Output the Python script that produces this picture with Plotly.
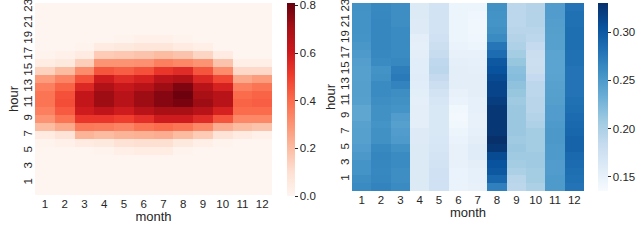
import plotly.graph_objects as go

months = [1, 2, 3, 4, 5, 6, 7, 8, 9, 10, 11, 12]
hours = list(range(24))
hour_ticks = [1, 3, 5, 7, 9, 11, 13, 15, 17, 19, 21, 23]

# Solar: value per month (column) for hours 0..23
solar_m1 = [0, 0, 0, 0, 0, 0, 0.01, 0.05, 0.2, 0.3, 0.35, 0.38, 0.38, 0.35, 0.28, 0.14, 0.04, 0.01, 0, 0, 0, 0, 0, 0]
solar_m2 = [0, 0, 0, 0, 0, 0, 0.02, 0.08, 0.25, 0.38, 0.44, 0.47, 0.46, 0.42, 0.34, 0.2, 0.06, 0.02, 0, 0, 0, 0, 0, 0]
solar_m3 = [0, 0, 0, 0, 0, 0, 0.05, 0.22, 0.37, 0.52, 0.6, 0.63, 0.63, 0.56, 0.46, 0.32, 0.15, 0.05, 0.01, 0, 0, 0, 0, 0]
solar_m4 = [0, 0, 0, 0, 0, 0.01, 0.06, 0.2, 0.36, 0.52, 0.64, 0.72, 0.72, 0.68, 0.6, 0.45, 0.3, 0.16, 0.05, 0, 0, 0, 0, 0]
solar_m5 = [0, 0, 0, 0, 0, 0.03, 0.09, 0.22, 0.34, 0.5, 0.6, 0.66, 0.66, 0.62, 0.55, 0.43, 0.3, 0.17, 0.06, 0.01, 0, 0, 0, 0]
solar_m6 = [0, 0, 0, 0, 0, 0.04, 0.1, 0.23, 0.38, 0.54, 0.66, 0.72, 0.72, 0.66, 0.58, 0.46, 0.31, 0.18, 0.07, 0.02, 0, 0, 0, 0]
solar_m7 = [0, 0, 0, 0, 0, 0.04, 0.1, 0.24, 0.4, 0.6, 0.7, 0.76, 0.76, 0.72, 0.65, 0.52, 0.35, 0.2, 0.07, 0.02, 0, 0, 0, 0]
solar_m8 = [0, 0, 0, 0, 0, 0.01, 0.06, 0.2, 0.38, 0.6, 0.7, 0.78, 0.8, 0.77, 0.68, 0.55, 0.33, 0.18, 0.05, 0.01, 0, 0, 0, 0]
solar_m9 = [0, 0, 0, 0, 0, 0, 0.03, 0.16, 0.33, 0.55, 0.66, 0.72, 0.7, 0.66, 0.56, 0.45, 0.3, 0.13, 0.03, 0, 0, 0, 0, 0]
solar_m10 = [0, 0, 0, 0, 0, 0, 0.01, 0.08, 0.24, 0.45, 0.58, 0.66, 0.66, 0.58, 0.48, 0.32, 0.18, 0.05, 0, 0, 0, 0, 0, 0]
solar_m11 = [0, 0, 0, 0, 0, 0, 0, 0.05, 0.2, 0.33, 0.4, 0.42, 0.4, 0.35, 0.25, 0.12, 0.03, 0, 0, 0, 0, 0, 0, 0]
solar_m12 = [0, 0, 0, 0, 0, 0, 0, 0.02, 0.18, 0.33, 0.4, 0.43, 0.42, 0.38, 0.28, 0.12, 0.03, 0, 0, 0, 0, 0, 0, 0]

# Wind: value per month (column) for hours 0..23
wind_m1 = [0.262, 0.26, 0.255, 0.255, 0.252, 0.248, 0.245, 0.245, 0.244, 0.24, 0.24, 0.245, 0.246, 0.246, 0.245, 0.245, 0.247, 0.25, 0.253, 0.255, 0.256, 0.256, 0.256, 0.257]
wind_m2 = [0.268, 0.266, 0.265, 0.266, 0.267, 0.264, 0.258, 0.258, 0.255, 0.258, 0.258, 0.26, 0.262, 0.262, 0.258, 0.256, 0.262, 0.265, 0.266, 0.266, 0.266, 0.266, 0.265, 0.264]
wind_m3 = [0.262, 0.26, 0.26, 0.262, 0.262, 0.258, 0.25, 0.248, 0.245, 0.248, 0.255, 0.258, 0.26, 0.268, 0.275, 0.272, 0.265, 0.262, 0.262, 0.262, 0.262, 0.26, 0.26, 0.26]
wind_m4 = [0.162, 0.162, 0.162, 0.162, 0.162, 0.162, 0.16, 0.16, 0.155, 0.155, 0.155, 0.153, 0.156, 0.157, 0.158, 0.157, 0.157, 0.155, 0.153, 0.155, 0.16, 0.16, 0.162, 0.162]
wind_m5 = [0.175, 0.175, 0.175, 0.172, 0.17, 0.168, 0.166, 0.165, 0.165, 0.165, 0.165, 0.168, 0.172, 0.178, 0.185, 0.19, 0.188, 0.182, 0.178, 0.175, 0.172, 0.172, 0.172, 0.172]
wind_m6 = [0.148, 0.148, 0.148, 0.15, 0.15, 0.15, 0.148, 0.145, 0.142, 0.14, 0.142, 0.148, 0.15, 0.155, 0.155, 0.155, 0.153, 0.15, 0.148, 0.146, 0.145, 0.145, 0.145, 0.146]
wind_m7 = [0.15, 0.152, 0.152, 0.155, 0.158, 0.158, 0.155, 0.152, 0.15, 0.15, 0.152, 0.152, 0.155, 0.155, 0.155, 0.153, 0.152, 0.15, 0.145, 0.143, 0.142, 0.142, 0.143, 0.145]
wind_m8 = [0.27, 0.29, 0.3, 0.305, 0.31, 0.325, 0.33, 0.325, 0.325, 0.325, 0.325, 0.32, 0.315, 0.315, 0.31, 0.305, 0.3, 0.285, 0.278, 0.262, 0.258, 0.255, 0.256, 0.258]
wind_m9 = [0.19, 0.192, 0.2, 0.205, 0.208, 0.21, 0.208, 0.21, 0.21, 0.21, 0.21, 0.208, 0.212, 0.215, 0.22, 0.218, 0.212, 0.205, 0.198, 0.195, 0.192, 0.19, 0.19, 0.19]
wind_m10 = [0.2, 0.205, 0.205, 0.208, 0.208, 0.205, 0.205, 0.205, 0.198, 0.195, 0.192, 0.192, 0.19, 0.19, 0.185, 0.18, 0.178, 0.18, 0.185, 0.19, 0.192, 0.195, 0.195, 0.195]
wind_m11 = [0.25, 0.25, 0.248, 0.248, 0.25, 0.25, 0.252, 0.252, 0.25, 0.248, 0.248, 0.246, 0.245, 0.244, 0.243, 0.242, 0.242, 0.242, 0.245, 0.245, 0.246, 0.247, 0.248, 0.248]
wind_m12 = [0.28, 0.282, 0.284, 0.286, 0.288, 0.292, 0.292, 0.29, 0.288, 0.286, 0.284, 0.282, 0.28, 0.28, 0.28, 0.28, 0.282, 0.282, 0.284, 0.284, 0.284, 0.282, 0.282, 0.28]

solar_cols = [solar_m1, solar_m2, solar_m3, solar_m4, solar_m5, solar_m6,
              solar_m7, solar_m8, solar_m9, solar_m10, solar_m11, solar_m12]
wind_cols = [wind_m1, wind_m2, wind_m3, wind_m4, wind_m5, wind_m6,
             wind_m7, wind_m8, wind_m9, wind_m10, wind_m11, wind_m12]

solar_z = [[solar_cols[m][h] for m in range(12)] for h in hours]
wind_z = [[wind_cols[m][h] for m in range(12)] for h in hours]

reds = [[0.0, "#fff5f0"], [0.125, "#fee0d2"], [0.25, "#fcbba1"], [0.375, "#fc9272"],
        [0.5, "#fb6a4a"], [0.625, "#ef3b2c"], [0.75, "#cb181d"], [0.875, "#a50f15"], [1.0, "#67000d"]]
blues = [[0.0, "#f7fbff"], [0.125, "#deebf7"], [0.25, "#c6dbef"], [0.375, "#9ecae1"],
         [0.5, "#6baed6"], [0.625, "#4292c6"], [0.75, "#2171b5"], [0.875, "#08519c"], [1.0, "#08306b"]]

W, H = 640, 245
PH = 192  # plot-area height (t=3, b=50)
FONT = "Liberation Sans, Arial, sans-serif"
TXT = "#262626"

fig = go.Figure()
fig.add_trace(go.Heatmap(
    x=months, y=hours, z=solar_z, colorscale=reds, zmin=0, zmax=0.81,
    xaxis="x", yaxis="y",
    colorbar=dict(x=287 / W, xanchor="left", y=1, yanchor="top",
                  lenmode="pixels", len=193, thickness=8, outlinewidth=0,
                  tickvals=[0.0, 0.2, 0.4, 0.6, 0.8], ticktext=["0.0", "0.2", "0.4", "0.6", "0.8"],
                  ticks="outside", ticklen=3, tickcolor=TXT, ticklabeloverflow="allow",
                  tickfont=dict(size=11.5, color=TXT, family=FONT), xpad=0, ypad=0),
))
fig.add_trace(go.Heatmap(
    x=months, y=hours, z=wind_z, colorscale=blues, zmin=0.1355, zmax=0.33,
    xaxis="x2", yaxis="y2",
    colorbar=dict(x=598 / W, xanchor="left", y=1, yanchor="top",
                  lenmode="pixels", len=188, thickness=10, outlinewidth=0,
                  tickvals=[0.15, 0.20, 0.25, 0.30], ticktext=["0.15", "0.20", "0.25", "0.30"],
                  ticks="outside", ticklen=3, tickcolor=TXT, ticklabeloverflow="allow",
                  tickfont=dict(size=11.5, color=TXT, family=FONT), xpad=0, ypad=0),
))

xcommon = dict(tickmode="array", tickvals=months, ticktext=[str(m) for m in months],
               range=[0.5, 12.5], showgrid=False, zeroline=False, ticks="", automargin=False,
               showline=False, tickfont=dict(size=11.5, color=TXT, family=FONT),
               title=dict(text="month", font=dict(size=13, color=TXT, family=FONT), standoff=0))
ycommon = dict(tickmode="array", tickvals=hour_ticks, ticktext=[str(h) for h in hour_ticks],
               range=[-0.5, 23.5], showgrid=False, zeroline=False, ticks="", tickangle=-90,
               automargin=False, showline=False, ticklabeloverflow="allow",
               tickfont=dict(size=11.5, color=TXT, family=FONT),
               title=dict(text="hour", font=dict(size=13, color=TXT, family=FONT), standoff=0))

fig.update_layout(
    template="none",
    width=W, height=H,
    margin=dict(l=0, r=0, t=3, b=50, autoexpand=False),
    paper_bgcolor="white", plot_bgcolor="white",
    font=dict(family=FONT, color=TXT),
    showlegend=False,
    xaxis=dict(domain=[35 / W, 272 / W], anchor="y", **xcommon),
    yaxis=dict(domain=[0, 1], anchor="x", **ycommon),
    xaxis2=dict(domain=[352 / W, 584 / W], anchor="y2", **xcommon),
    yaxis2=dict(domain=[4 / PH, 1], anchor="x2", **ycommon),
)

fig.write_html(
    "out.html",
    config={"displayModeBar": False},
    post_script="document.body.style.margin='0';document.body.style.overflow='hidden';",
)
